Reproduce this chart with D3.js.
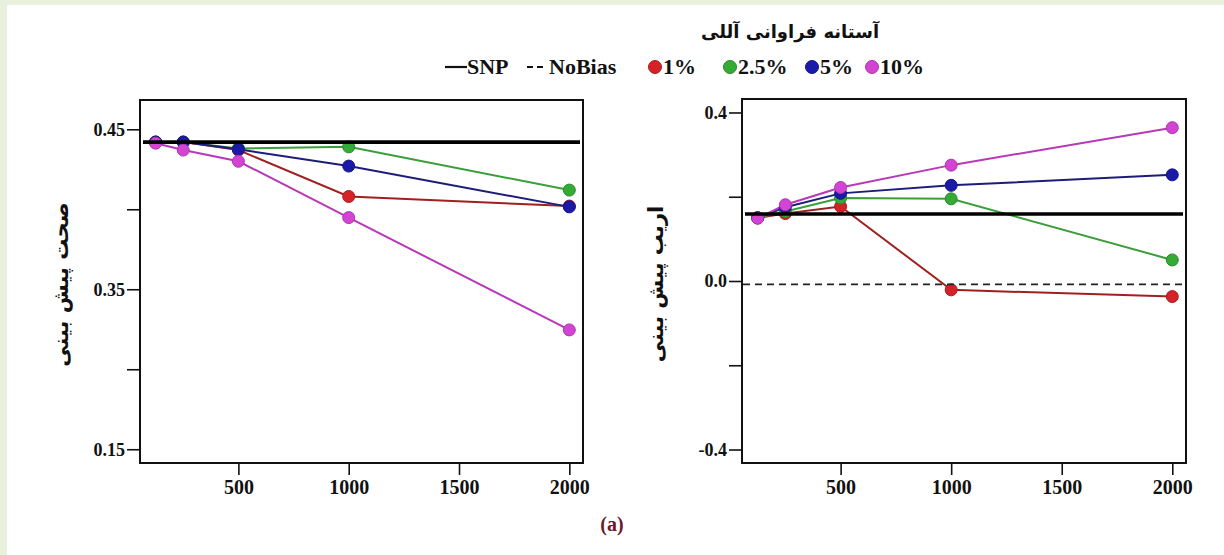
<!DOCTYPE html>
<html><head><meta charset="utf-8">
<script src="https://cdn.jsdelivr.net/npm/d3@7"></script>
<style>
html,body{margin:0;padding:0;background:#fff;}
svg{display:block;}
.tick text{font-family:"Liberation Serif","Times New Roman",serif;font-weight:bold;fill:#111;}
</style></head>
<body>
<script>
// ---- data ----
const sampleSizes = [125, 250, 500, 1000, 2000];
const seriesNames = ["1%", "2.5%", "5%", "10%"];
const accuracy1 = [0.442, 0.442, 0.437, 0.408, 0.402];
const accuracy25 = [0.442, 0.442, 0.438, 0.439, 0.412];
const accuracy5 = [0.442, 0.442, 0.4375, 0.427, 0.4015];
const accuracy10 = [0.4413, 0.437, 0.430, 0.3948, 0.3246];
const bias1 = [0.150, 0.160, 0.177, -0.021, -0.037];
const bias25 = [0.150, 0.165, 0.197, 0.195, 0.050];
const bias5 = [0.150, 0.175, 0.208, 0.227, 0.252];
const bias10 = [0.149, 0.181, 0.222, 0.275, 0.364];
const snpAccuracy = 0.442;
const snpBias = 0.159;
const noBiasValue = -0.008;
const accTickValues = [0.45, 0.40, 0.35, 0.30, 0.25];
const accTickLabels = ["0.45", "", "0.35", "", "0.15"];
const biasTickValues = [0.4, 0.2, 0.0, -0.2, -0.4];
const biasTickLabels = ["0.4", "", "0.0", "", "-0.4"];
const xTickValues = [500, 1000, 1500, 2000];
const legendTitle = "آستانه فراوانی آللی";
const accLabel = "صحت پیش بینی";
const biasLabel = "اریب پیش بینی";
const panelTag = "(a)";

const colors = ["#d42228", "#35aa35", "#1a1aa8", "#d444d4"];
const lineColors = ["#a02020", "#3a9e3a", "#1c1c7a", "#b838b8"];

const W = 1224, H = 555;
const svg = d3.select("body").append("svg").attr("width", W).attr("height", H);

// frame background
svg.append("rect").attr("x",0).attr("y",0).attr("width",W).attr("height",H).attr("fill","#e9f0dc");
svg.append("rect").attr("x",7).attr("y",5).attr("width",W-7).attr("height",H-5).attr("fill","#fff");

const serif = "'Liberation Serif','Times New Roman',serif";

function panel(opts){
  const {left, right, top, bottom, yDomain, tickVals, tickLabs, series, snp, noBias, label, labelX} = opts;
  const g = svg.append("g");
  const x = d3.scaleLinear().domain([54, 2062]).range([left, right]);
  const y = d3.scaleLinear().domain(yDomain).range([bottom, top]);

  // y axis
  const ya = g.append("g").attr("transform", `translate(${left},0)`)
    .call(d3.axisLeft(y).tickValues(tickVals).tickSize(13).tickPadding(2)
      .tickFormat((d,i)=>tickLabs[i]));
  ya.select(".domain").remove();
  ya.selectAll(".tick line").attr("stroke","#111").attr("stroke-width",1.6);
  ya.selectAll(".tick text").style("font-size","18px");

  // x axis
  const xa = g.append("g").attr("transform", `translate(0,${bottom})`)
    .call(d3.axisBottom(x).tickValues(xTickValues).tickSize(12).tickPadding(5).tickFormat(d3.format("d")));
  xa.select(".domain").remove();
  xa.selectAll(".tick line").attr("stroke","#111").attr("stroke-width",1.6);
  xa.selectAll(".tick text").style("font-size","20px");

  // series
  const line = d3.line().x((d,i)=>x(sampleSizes[i])).y(d=>y(d));
  series.forEach((vals, k)=>{
    g.append("path").datum(vals).attr("d", line).attr("fill","none")
      .attr("stroke", lineColors[k]).attr("stroke-width", 2);
  });
  series.forEach((vals, k)=>{
    g.selectAll(null).data(vals).enter().append("circle")
      .attr("cx",(d,i)=>x(sampleSizes[i])).attr("cy",d=>y(d)).attr("r",6)
      .attr("fill", colors[k]).attr("stroke", d3.color(colors[k]).darker(0.6)).attr("stroke-width",1);
  });

  // NoBias dashed
  if (noBias !== null) {
    g.append("line").attr("x1", left+1).attr("x2", right-1)
      .attr("y1", y(noBias)).attr("y2", y(noBias))
      .attr("stroke","#222").attr("stroke-width",1.6).attr("stroke-dasharray","7,5");
  }
  // SNP line
  g.append("line").attr("x1", left+3).attr("x2", right-3)
    .attr("y1", y(snp)).attr("y2", y(snp)).attr("stroke","#000").attr("stroke-width",3.6);

  // box
  g.append("rect").attr("x",left).attr("y",top).attr("width",right-left).attr("height",bottom-top)
    .attr("fill","none").attr("stroke","#111").attr("stroke-width",2);

  // y label
  g.append("text").attr("transform", `translate(${labelX},${(top+bottom)/2+3}) rotate(-90)`)
    .attr("text-anchor","middle").attr("font-family","'DejaVu Sans','Noto Sans',sans-serif")
    .attr("font-size","21px").attr("font-weight","bold").attr("fill","#111").text(label);
}

panel({left:140, right:583, top:100, bottom:463,
  yDomain:[0.2414, 0.4683], tickVals:accTickValues, tickLabs:accTickLabels,
  series:[accuracy1, accuracy25, accuracy5, accuracy10], snp:snpAccuracy, noBias:null,
  label:accLabel, labelX:68});

panel({left:742, right:1186, top:99, bottom:463,
  yDomain:[-0.432, 0.432], tickVals:biasTickValues, tickLabs:biasTickLabels,
  series:[bias1, bias25, bias5, bias10], snp:snpBias, noBias:noBiasValue,
  label:biasLabel, labelX:663});

// legend
const lg = svg.append("g");
lg.append("text").attr("x", 790).attr("y", 38).attr("text-anchor","middle")
  .attr("font-family","'DejaVu Sans','Noto Sans',sans-serif").attr("font-weight","bold")
  .attr("font-size","18px").attr("fill","#111").text(legendTitle);
const ly = 67;
const lfs = "22px";
lg.append("line").attr("x1",445).attr("x2",467).attr("y1",ly).attr("y2",ly).attr("stroke","#111").attr("stroke-width",2.2);
lg.append("text").attr("x",467).attr("y",ly+7).attr("font-family",serif).attr("font-weight","bold")
  .attr("font-size",lfs).attr("fill","#111").text("SNP");
lg.append("line").attr("x1",527).attr("x2",543).attr("y1",ly).attr("y2",ly).attr("stroke","#111")
  .attr("stroke-width",2.2).attr("stroke-dasharray","6,4");
lg.append("text").attr("x",549).attr("y",ly+7).attr("font-family",serif).attr("font-weight","bold")
  .attr("font-size",lfs).attr("fill","#111").text("NoBias");
const lx = [655, 730, 812, 872];
seriesNames.forEach((n,k)=>{
  lg.append("circle").attr("cx",lx[k]).attr("cy",ly).attr("r",6.5).attr("fill",colors[k])
    .attr("stroke", d3.color(colors[k]).darker(0.6)).attr("stroke-width",1);
  lg.append("text").attr("x",lx[k]+8).attr("y",ly+7).attr("font-family",serif).attr("font-weight","bold")
    .attr("font-size",lfs).attr("fill","#111").text(n);
});

svg.append("text").attr("x",612).attr("y",531).attr("text-anchor","middle")
  .attr("font-family",serif).attr("font-weight","bold").attr("font-size","20px")
  .attr("fill","#6a1a2a").text(panelTag);
</script>
</body></html>
